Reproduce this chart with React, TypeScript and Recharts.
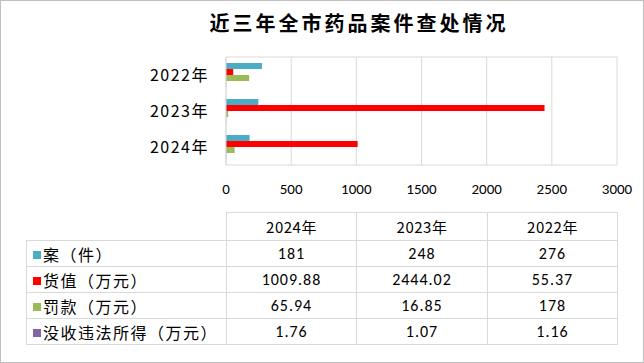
import React from "react";
import { BarChart, Bar, XAxis, YAxis, CartesianGrid } from "recharts";

// chart categories (top to bottom)
const years = ["2022年", "2023年", "2024年"];
const cases = [276, 248, 181]; // 案（件）
const goodsValue = [55.37, 2444.02, 1009.88]; // 货值（万元）
const fines = [178, 16.85, 65.94]; // 罚款（万元）
const confiscated = [1.16, 1.07, 1.76]; // 没收违法所得（万元）
const xTicks = [0, 500, 1000, 1500, 2000, 2500, 3000];

const series = [
  { key: "cases", name: "案（件）", color: "#4BACC6", values: cases },
  { key: "goodsValue", name: "货值（万元）", color: "#FF0000", values: goodsValue },
  { key: "fines", name: "罚款（万元）", color: "#9BBB59", values: fines },
  { key: "confiscated", name: "没收违法所得（万元）", color: "#8064A2", values: confiscated },
];

const data = years.map((year, i) => {
  const row: Record<string, string | number> = { year };
  series.forEach((s) => (row[s.key] = s.values[i]));
  return row;
});

// table shows the years in reverse order
const tableOrder = [2, 1, 0];

const cjk = "'Noto Sans CJK SC', sans-serif";
const num = "Carlito, 'Liberation Sans', 'Noto Sans CJK SC', sans-serif";
const gridColor = "#d9d9d9";

export default function App() {
  const cell: React.CSSProperties = {
    border: `1px solid ${gridColor}`,
    textAlign: "center",
    fontFamily: num,
    fontSize: 16,
    letterSpacing: 1,
    color: "#000",
    padding: 0,
  };

  return (
    <div
      style={{
        position: "absolute",
        left: 0,
        top: 0,
        width: 644,
        height: 363,
        border: "1px solid #bfbfbf",
        boxSizing: "border-box",
        background: "#fff",
      }}
    >
      <div
        style={{
          position: "absolute",
          left: 0,
          top: 8,
          width: 716,
          textAlign: "center",
          fontFamily: cjk,
          fontWeight: "bold",
          fontSize: 20,
          letterSpacing: 3,
          lineHeight: "28px",
          color: "#000",
        }}
      >
        近三年全市药品案件查处情况
      </div>

      <div style={{ position: "absolute", left: -1, top: -1 }}>
        <BarChart
          layout="vertical"
          width={644}
          height={363}
          data={data}
          margin={{ top: 57, right: 27, bottom: 0, left: 0 }}
          barCategoryGap={6}
          barGap={0}
          barSize={6}
        >
          <CartesianGrid
            stroke={gridColor}
            vertical
            horizontal
            horizontalCoordinatesGenerator={({ offset }: any) => [
              offset.top,
              offset.top + offset.height,
            ]}
          />
          <XAxis
            type="number"
            domain={[0, 3000]}
            ticks={xTicks}
            axisLine={false}
            tickLine={false}
            height={198}
            tickMargin={12}
            tick={{ fontSize: 15, fill: "#000", fontFamily: num }}
            interval={0}
          />
          <YAxis
            type="category"
            dataKey="year"
            width={226}
            axisLine={{ stroke: gridColor }}
            tickLine={false}
            tickMargin={11}
            tick={{ fontSize: 16, fill: "#000", fontFamily: cjk, letterSpacing: 1.5 }}
          />
          {series.map((s) => (
            <Bar
              key={s.key}
              dataKey={s.key}
              name={s.name}
              fill={s.color}
              isAnimationActive={false}
            />
          ))}
        </BarChart>
      </div>

      <table
        style={{
          position: "absolute",
          left: 25,
          top: 211,
          borderCollapse: "collapse",
          tableLayout: "fixed",
        }}
      >
        <colgroup>
          <col style={{ width: 200 }} />
          <col style={{ width: 130 }} />
          <col style={{ width: 131 }} />
          <col style={{ width: 130 }} />
        </colgroup>
        <tbody>
          <tr style={{ height: 28 }}>
            <td style={{ ...cell, border: "none", borderRight: `1px solid ${gridColor}`, borderBottom: `1px solid ${gridColor}` }} />
            {tableOrder.map((i) => (
              <td key={i} style={{ ...cell, fontFamily: cjk, fontSize: 15, letterSpacing: 0.5 }}>
                {years[i]}
              </td>
            ))}
          </tr>
          {series.map((s) => (
            <tr key={s.key} style={{ height: 26 }}>
              <td
                style={{
                  ...cell,
                  textAlign: "left",
                  fontFamily: cjk,
                  fontSize: 16,
                  letterSpacing: 1.5,
                  paddingLeft: 6,
                  whiteSpace: "nowrap",
                  overflow: "hidden",
                }}
              >
                <span
                  style={{
                    display: "inline-block",
                    width: 8,
                    height: 8,
                    background: s.color,
                    marginRight: 2,
                    verticalAlign: "middle",
                    position: "relative",
                    top: -1,
                  }}
                />
                {s.name}
              </td>
              {tableOrder.map((i) => (
                <td key={i} style={cell}>
                  {s.values[i]}
                </td>
              ))}
            </tr>
          ))}
        </tbody>
      </table>
    </div>
  );
}
